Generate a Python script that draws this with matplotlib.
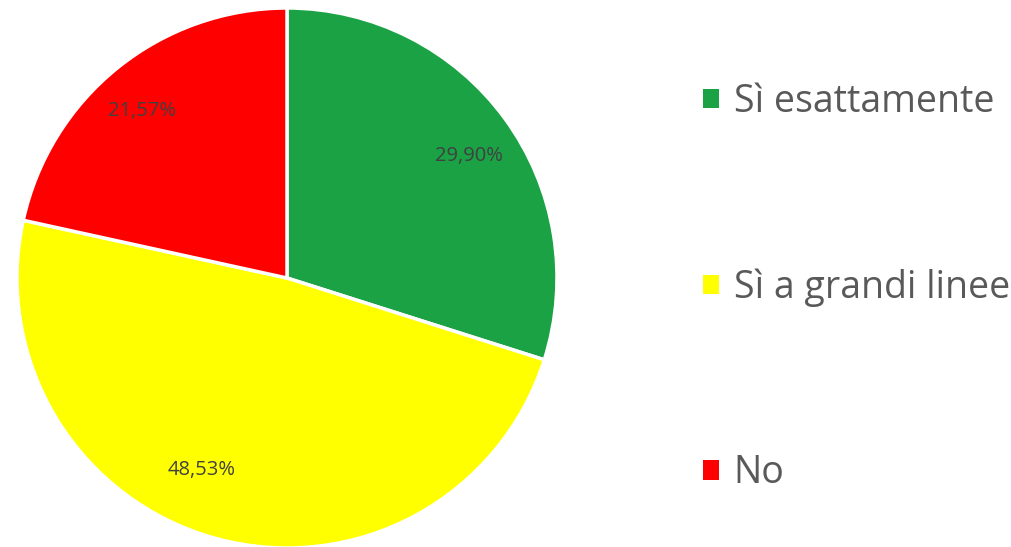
import matplotlib.pyplot as plt
import numpy as np

categories = ["Sì esattamente", "Sì a grandi linee", "No"]
values = [29.90, 48.53, 21.57]
colors = ["#1aa244", "#ffff00", "#ff0000"]

# label placement (fraction of radius, angle in degrees) as Excel puts them
label_pos = [(0.81, 33.8), (0.78, -114.0), (0.82, 131.0)]

fig = plt.figure(figsize=(10.12, 5.47), dpi=100)
ax = fig.add_axes([17 / 1012, -1 / 547, 540 / 1012, 540 / 547])

wedges, texts, autotexts = ax.pie(
    values, colors=colors, startangle=90, counterclock=False,
    autopct=lambda p: f"{p:.2f}%".replace(".", ","), pctdistance=0.8,
    wedgeprops=dict(edgecolor="white", linewidth=2.5),
    textprops=dict(color="#404040", fontsize=14.5, family="Open Sans"))
ax.set_xlim(-1, 1)
ax.set_ylim(-1, 1)
ax.set_aspect("equal")

for t, (r, a) in zip(autotexts, label_pos):
    t.set_position((r * np.cos(np.radians(a)), r * np.sin(np.radians(a))))

leg = fig.legend(wedges, categories, loc="upper left",
                 bbox_to_anchor=(703 / 1012, 1 - 83 / 547),
                 frameon=False, fontsize=27,
                 handlelength=0.42, handleheight=0.42, handletextpad=0.4,
                 labelspacing=3.93, borderaxespad=0, borderpad=0)
for t in leg.get_texts():
    t.set_color("#595959")
    t.set_family("Open Sans")
for h in leg.legend_handles:
    h.set_edgecolor("none")

fig.savefig("out.png", dpi=100)
